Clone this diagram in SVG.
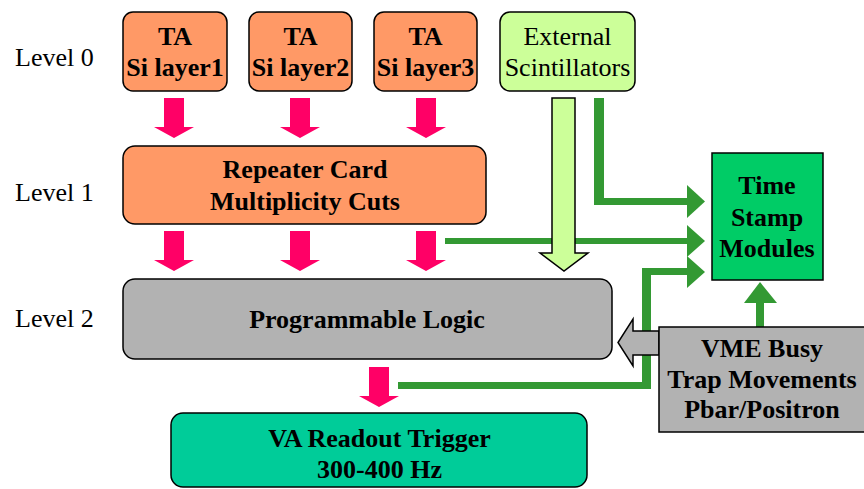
<svg xmlns="http://www.w3.org/2000/svg" xmlns:xlink="http://www.w3.org/1999/xlink" width="864" height="489" viewBox="0 0 864 489">
  <style>
    text { font-family: "Liberation Serif", "DejaVu Serif", serif; font-size: 26px; fill: #000; }
    .b { font-weight: bold; }
    .mid { text-anchor: middle; }
    .box { stroke: #000; stroke-width: 1.5; }
    .orange { fill: #FF9966; }
    .lime { fill: #CCFF99; }
    .gray { fill: #B2B2B2; }
    .green { fill: #339933; }
    .pink { fill: #FF0066; }
  </style>
  <defs>
    <!-- down arrow, origin at the tip -->
    <path id="down" d="M-10,-40 H10 V-11 H20 L0,0 L-20,-11 H-10 Z"/>
  </defs>

  <rect width="864" height="489" fill="#fff"/>

  <!-- level labels -->
  <g id="levels">
    <text x="15" y="66">Level 0</text>
    <text x="15" y="201">Level 1</text>
    <text x="15" y="327">Level 2</text>
  </g>

  <!-- connectors -->
  <g id="connectors">
    <use xlink:href="#down" class="pink" x="174" y="138"/>
    <use xlink:href="#down" class="pink" x="300" y="138"/>
    <use xlink:href="#down" class="pink" x="426" y="138"/>
    <use xlink:href="#down" class="pink" x="174" y="271"/>
    <use xlink:href="#down" class="pink" x="300" y="271"/>
    <use xlink:href="#down" class="pink" x="426" y="271"/>
    <use xlink:href="#down" class="pink" x="379" y="407"/>

    <!-- scintillators to time stamp -->
    <path class="green" d="M594,98 H604 V198 H688 V205 H594 Z"/>
    <path class="green" d="M687,185 L705,201.5 L687,218 Z"/>
    <!-- repeater to time stamp -->
    <rect class="green" x="445" y="238" width="243" height="6"/>
    <path class="green" d="M687,225 L705,241 L687,257 Z"/>
    <!-- trigger to time stamp -->
    <path class="green" d="M398,382 H642 V268 H688 V275 H651 V389 H398 Z"/>
    <path class="green" d="M687,256 L705,272 L687,288 Z"/>
    <!-- VME busy up to time stamp -->
    <rect class="green" x="756" y="300" width="8" height="27"/>
    <path class="green" d="M744,303 L760,282 L777,303 Z"/>

    <!-- scintillators down to programmable logic -->
    <path class="lime box" d="M552,98 H575 V253 H588 L564,271 L540,253 H552 Z"/>
    <!-- VME busy into programmable logic -->
    <path class="gray box" d="M659,331 H633 V319 L618,342.5 L633,366 V355 H659 Z"/>
  </g>

  <g id="ta1">
    <rect class="orange box" x="123" y="12" width="104" height="79" rx="10"/>
    <text class="b mid" x="175" y="45">TA</text>
    <text class="b mid" x="175" y="76">Si layer1</text>
  </g>
  <g id="ta2">
    <rect class="orange box" x="249" y="12" width="103" height="79" rx="10"/>
    <text class="b mid" x="300.5" y="45">TA</text>
    <text class="b mid" x="300.5" y="76">Si layer2</text>
  </g>
  <g id="ta3">
    <rect class="orange box" x="374" y="12" width="103" height="79" rx="10"/>
    <text class="b mid" x="425.5" y="45">TA</text>
    <text class="b mid" x="425.5" y="76">Si layer3</text>
  </g>
  <g id="external">
    <rect class="lime box" x="500" y="12" width="135" height="79" rx="10"/>
    <text class="mid" x="567.5" y="45">External</text>
    <text class="mid" x="567.5" y="76">Scintillators</text>
  </g>

  <g id="repeater">
    <rect class="orange box" x="123" y="146" width="363" height="78" rx="12"/>
    <text class="b mid" x="305" y="178">Repeater Card</text>
    <text class="b mid" x="305" y="210">Multiplicity Cuts</text>
  </g>

  <g id="timestamp">
    <rect class="box" fill="#00CC66" x="712" y="153" width="111" height="127"/>
    <text class="b mid" x="767" y="194">Time</text>
    <text class="b mid" x="767" y="226">Stamp</text>
    <text class="b mid" x="767" y="257">Modules</text>
  </g>

  <g id="logic">
    <rect class="gray box" x="123" y="279" width="489" height="80" rx="12"/>
    <text class="b mid" x="367" y="328">Programmable Logic</text>
  </g>

  <g id="vme">
    <rect class="gray box" x="659" y="327" width="206" height="105"/>
    <text class="b mid" x="762" y="357">VME Busy</text>
    <text class="b mid" x="762" y="388">Trap Movements</text>
    <text class="b mid" x="762" y="418">Pbar/Positron</text>
  </g>

  <g id="readout">
    <rect class="box" fill="#00CC99" x="171" y="413" width="416" height="74" rx="12"/>
    <text class="b mid" x="379.5" y="447">VA Readout Trigger</text>
    <text class="b mid" x="379.5" y="478">300-400 Hz</text>
  </g>
</svg>
